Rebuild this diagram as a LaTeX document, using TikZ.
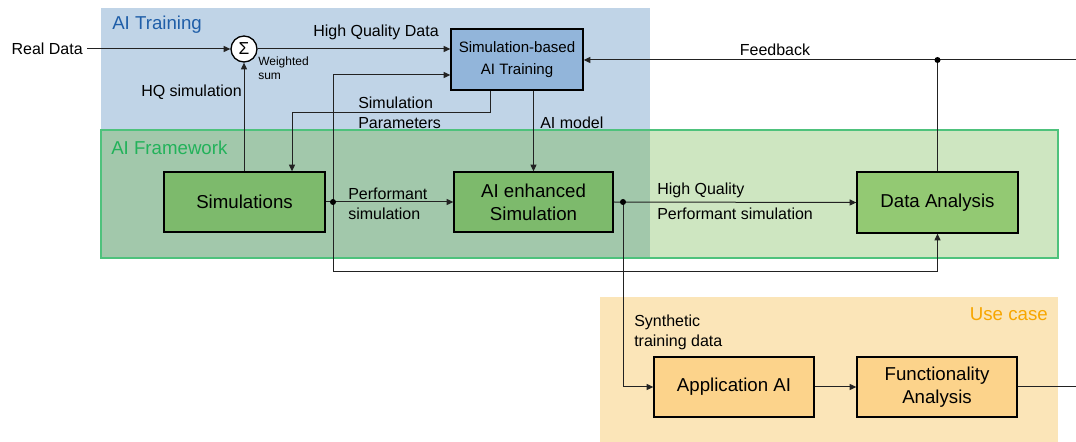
\documentclass[tikz,border=0pt]{standalone}
\usepackage{fontspec}
\setmainfont{Liberation Sans}
\usetikzlibrary{arrows.meta,calc}
\definecolor{regblue}{HTML}{C0D4E7}
\definecolor{regdkgreen}{HTML}{A2C8AB}
\definecolor{reglgreen}{HTML}{CEE6C1}
\definecolor{regborder}{HTML}{4EC27C}
\definecolor{reguse}{HTML}{FBE5B8}
\definecolor{titleblue}{HTML}{1F5EA8}
\definecolor{titlegreen}{HTML}{22B25A}
\definecolor{titleorange}{HTML}{F7A600}
\definecolor{boxblue}{HTML}{92B5DA}
\definecolor{boxgreen}{HTML}{7DBA6C}
\definecolor{boxlgreen}{HTML}{93C973}
\definecolor{boxorange}{HTML}{FCD38B}
\definecolor{linec}{HTML}{222222}
\tikzset{
  blk/.style={draw=black, line width=1pt, align=center, inner sep=2pt,
    font=\fontsize{14}{17}\selectfont},
  lbl/.style={align=left, inner sep=0pt, font=\fontsize{12}{15}\selectfont},
  title/.style={inner sep=0pt, font=\fontsize{14}{17}\selectfont},
  conn/.style={draw=linec, line width=0.75pt},
  arr/.style={conn, -{Triangle[length=5pt,width=4.5pt]}},
  dot/.style={circle, fill=black, inner sep=0pt, minimum size=4.5pt}
}
\begin{document}
\begin{tikzpicture}[x=0.75pt,y=-0.75pt]
\useasboundingbox (0,0) rectangle (1076,442);
% regions
\fill[regblue] (101,8) rectangle (650,130);
\fill[regdkgreen] (101,130) rectangle (650,258);
\fill[reglgreen] (650,130) rectangle (1058,258);
\draw[regborder, line width=1pt] (101,130) rectangle (1058,258);
\fill[reguse] (600,297) rectangle (1058,442);
\node[title, text=titleblue, anchor=west] (tAI) at (112,25) {AI Training};
\node[title, text=titlegreen, anchor=west] (tFW) at (111,148) {AI Framework};
\node[title, text=titleorange, anchor=east] (tUC) at (1048,314) {Use case};
% blocks
\node[blk, fill=boxblue, minimum width=99pt, minimum height=45.75pt, font=\fontsize{11.3}{16.5}\selectfont] (train) at (517,59.5) {Simulation-based\\AI Training};
\node[blk, fill=boxgreen, minimum width=120.75pt, minimum height=45pt] (sims) at (244.5,202) {Simulations};
\node[blk, fill=boxgreen, minimum width=119.25pt, minimum height=45pt] (aienh) at (533.5,202) {AI enhanced\\Simulation};
\node[blk, fill=boxlgreen, minimum width=120.75pt, minimum height=45.75pt] (da) at (937.5,202.5) {Data Analysis};
\node[blk, fill=boxorange, minimum width=120pt, minimum height=45pt] (appai) at (734,387) {Application AI};
\node[blk, fill=boxorange, minimum width=120pt, minimum height=45pt] (func) at (937,387) {Functionality\\Analysis};
\node[draw=black, line width=1pt, fill=white, circle, minimum size=19.5pt, inner sep=0pt, font=\fontsize{13}{15}\selectfont] (sum) at (244,49) {Σ};
% text nodes
\node[lbl, anchor=east] (real) at (83,49) {Real Data};
% coordinates
\coordinate (p1) at (333,202);
\coordinate (p2) at (623,202);
\coordinate (low) at (333,272);
\coordinate (spc) at (292,113);
\coordinate (fbr) at (1076,60);
\coordinate (fer) at (1076,387);
\coordinate (p3) at (da.north |- fbr);
% connectors
\draw[arr] (real.east) ++(4,0) -- (sum.west);
\draw[arr] (sum.east) -- (sum -| train.west);
\draw[arr] (sum.south |- sims.north) -- (sum.south);
\draw[arr] (sims.east) -- (aienh.west);
\draw[arr] (p1) |- ($(train.west)+(0,15.5)$);
\draw[arr] (p1) -- (low) -| (da.south);
\draw[arr] ($(train.south west)+(40,0)$) |- (spc) -- (spc |- sims.north);
\draw[arr] (aienh.north |- train.south) -- (aienh.north);
\draw[arr] (aienh.east) -- (da.west);
\draw[arr] (p2) |- (appai.west);
\draw[arr] (appai.east) -- (func.west);
\draw[conn] (func.east) -- (fer);
\draw[arr] (fbr) -- (fbr -| train.east);
\draw[conn] (da.north) -- (p3);
\node[dot] at (p1) {};
\node[dot] at (p2) {};
\node[dot] at (p3) {};
% labels
\node[lbl] (lhqd) at (376,32) {High Quality Data};
\node[lbl, anchor=north west, font=\fontsize{9}{10.5}\selectfont] (lws) at (258,57) {Weighted\\sum};
\node[lbl, anchor=east] (lhqs) at (242,92) {HQ simulation};
\node[lbl, anchor=west] (lsp) at (358,113) {Simulation\\Parameters};
\node[lbl, anchor=west] (lam) at (540,123) {AI model};
\node[lbl, anchor=west] (lps) at (348,204) {Performant\\simulation};
\node[lbl, anchor=west] (lhq) at (657,190) {High Quality};
\node[lbl, anchor=west] (lps2) at (657,214) {Performant simulation};
\node[lbl, anchor=west] (lstd) at (634,332) {Synthetic\\training data};
\node[lbl] (lfb) at (775,50) {Feedback};
\end{tikzpicture}
\end{document}
